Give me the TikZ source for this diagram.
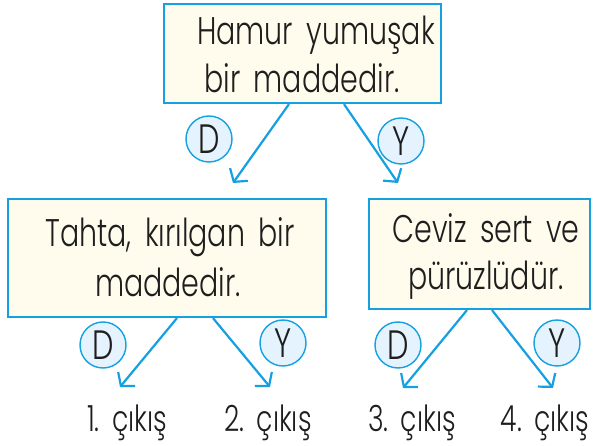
\documentclass[tikz,border=0pt]{standalone}
\usepackage{fontspec}
\setmainfont[FakeStretch=0.74,WordSpace=1.7,UprightFont={* Light}]{Poppins}
\usetikzlibrary{arrows.meta,calc}
\definecolor{bblue}{RGB}{20,160,225}
\definecolor{cream}{RGB}{255,252,237}
\definecolor{lblue}{RGB}{228,243,253}
\definecolor{ink}{RGB}{30,30,30}
\begin{document}
\begin{tikzpicture}[x=1pt,y=-1pt,
  qbox/.style={draw=bblue,fill=cream,line width=2.2pt,inner sep=0pt,text=ink},
  ans/.style={circle,draw=bblue,fill=lblue,line width=1.4pt,minimum size=46pt,inner sep=0pt,text=ink,font=\fontsize{41}{41}\selectfont},
  conn/.style={draw=bblue,line width=2.2pt,-{Straight Barb[length=9pt,width=22pt,line width=2.2pt]}},
  txt/.style={text=ink,font=\fontsize{38.5}{48}\selectfont,align=center},
  outl/.style={text=ink,font=\fontsize{36}{36}\selectfont,anchor=base}]
\useasboundingbox (0,0) rectangle (598,446);
\node[qbox,minimum width=277pt,minimum height=99pt] (top) at (302.5,53.5) {};
\node[qbox,minimum width=318pt,minimum height=118pt] (left) at (167,258) {};
\node[qbox,minimum width=221pt,minimum height=110pt] (right) at (479.5,254) {};
\node[txt,anchor=base] at (316,45) {Hamur yumuşak};
\node[txt,anchor=base] at (302,93) {bir maddedir.};
\node[txt,anchor=base] at (170,247) {Tahta, kırılgan bir};
\node[txt,anchor=base] at (168,297) {maddedir.};
\node[txt,anchor=base] at (486,243) {Ceviz sert ve};
\node[txt,anchor=base] at (486,290) {pürüzlüdür.};
\coordinate (t1) at (233,183);
\coordinate (t2) at (398,183);
\coordinate (t3) at (120,387);
\coordinate (t4) at (270,387);
\coordinate (t5) at (403,388);
\coordinate (t6) at (553,388);
\draw[conn] (top.south -| 289,0) -- (t1);
\draw[conn] (top.south -| 344,0) -- (t2);
\draw[conn] (left.south -| 177,0) -- (t3);
\draw[conn] (left.south -| 213,0) -- (t4);
\draw[conn] (right.south -| 467,0) -- (t5);
\draw[conn] (right.south -| 492,0) -- (t6);
\node[ans] (d1) at (209,139) {D};
\node[ans] (y1) at (401,141) {Y};
\node[ans] (d2) at (103,345) {D};
\node[ans] (y2) at (283,343) {Y};
\node[ans] (d3) at (398,345) {D};
\node[ans] (y3) at (557,343) {Y};
\node[outl] (o1) at (127,432) {1.\ çıkış};
\node[outl] (o2) at (268,432) {2.\ çıkış};
\node[outl] (o3) at (412,432) {3.\ çıkış};
\node[outl] (o4) at (545,432) {4.\ çıkış};
\end{tikzpicture}
\end{document}
